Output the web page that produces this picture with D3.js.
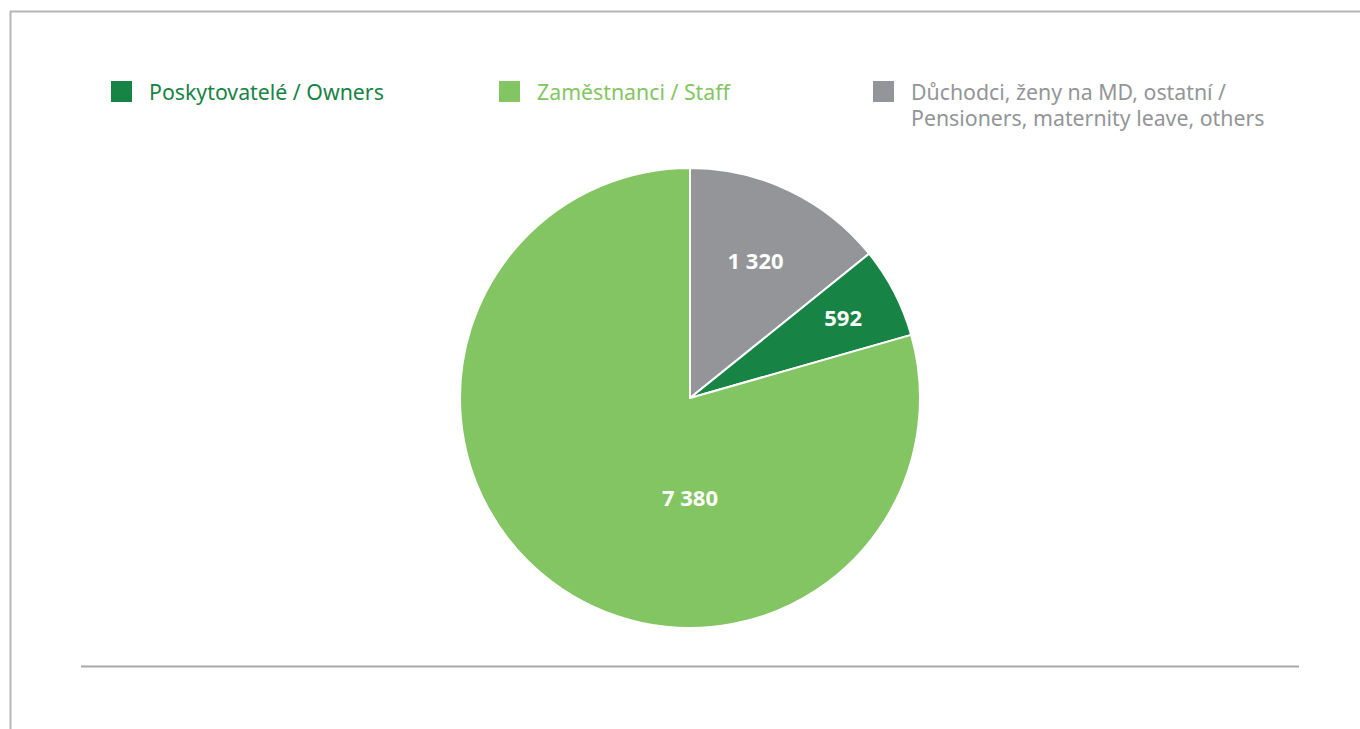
<!DOCTYPE html>
<html>
<head>
<meta charset="utf-8">
<script src="https://cdn.jsdelivr.net/npm/d3@7"></script>
<style>
  body { margin: 0; background: #fff; }
  svg { display: block; }
</style>
</head>
<body>
<div id="chart"></div>
<script>
// data
const categories = ["Poskytovatelé / Owners", "Zaměstnanci / Staff", "Důchodci, ženy na MD, ostatní / Pensioners, maternity leave, others"];
const legendLines = [["Poskytovatelé / Owners"], ["Zaměstnanci / Staff"], ["Důchodci, ženy na MD, ostatní /", "Pensioners, maternity leave, others"]];
const values = [592, 7380, 1320];
const valueLabels = ["592", "7 380", "1 320"];
// pie drawing order, clockwise from 12 o'clock
const pieOrder = [2, 0, 1];

const colors = ["#178345", "#83c562", "#939598"];

let svgWidth = 1360;
let svgHeight = 729;

let svg = d3.select("#chart")
    .append("svg")
    .attr("width", svgWidth)
    .attr("height", svgHeight);

// frame
svg.append("path")
    .attr("d", "M10.5,729 L10.5,11.5 L1360,11.5")
    .attr("fill", "none")
    .attr("stroke", "#b5b5b5")
    .attr("stroke-width", 2);

svg.append("line")
    .attr("x1", 81).attr("x2", 1299)
    .attr("y1", 666.5).attr("y2", 666.5)
    .attr("stroke", "#a8a8a8")
    .attr("stroke-width", 2);

// legend
const legendX = [111, 499, 873];
let legend = svg.append("g").attr("font-family", "'Noto Sans', sans-serif").attr("font-size", "21.3px");
categories.forEach((c, i) => {
    let g = legend.append("g").attr("transform", `translate(${legendX[i]}, 81)`);
    g.append("rect").attr("width", 21).attr("height", 21).attr("fill", colors[i]);
    let t = g.append("text").attr("x", 38).attr("y", 19).attr("fill", colors[i]);
    legendLines[i].forEach((line, j) => {
        t.append("tspan").attr("x", 38).attr("dy", j === 0 ? 0 : 26).text(line);
    });
});

// pie
const cx = 690, cy = 398, radius = 230;
let pieData = pieOrder.map(i => ({ idx: i, value: values[i] }));
let pie = d3.pie().sort(null).value(d => d.value);
let arc = d3.arc().innerRadius(0).outerRadius(radius);
let arcs = pie(pieData);

let chartGroup = svg.append("g").attr("transform", `translate(${cx}, ${cy})`);

chartGroup.selectAll("path.slice")
    .data(arcs)
    .enter()
    .append("path")
    .attr("class", "slice")
    .attr("d", arc)
    .attr("fill", d => colors[d.data.idx])
    .attr("stroke", "#fff")
    .attr("stroke-width", 2)
    .attr("stroke-linejoin", "round");

// label placement (Excel best-fit): radius factor and angle override per category
const labelRadius = [0.75, 0.435, 0.66];
const labelAngle = [null, Math.PI, null];

chartGroup.selectAll("text.val")
    .data(arcs)
    .enter()
    .append("text")
    .attr("class", "val")
    .attr("transform", d => {
        let a = labelAngle[d.data.idx] !== null ? labelAngle[d.data.idx] : (d.startAngle + d.endAngle) / 2;
        let r = radius * labelRadius[d.data.idx];
        return `translate(${r * Math.sin(a)}, ${-r * Math.cos(a)})`;
    })
    .attr("text-anchor", "middle")
    .attr("dy", "0.35em")
    .attr("fill", "#fff")
    .attr("font-family", "'Noto Sans', sans-serif")
    .attr("font-weight", "bold")
    .attr("font-size", "22px")
    .text(d => valueLabels[d.data.idx]);
</script>
</body>
</html>
